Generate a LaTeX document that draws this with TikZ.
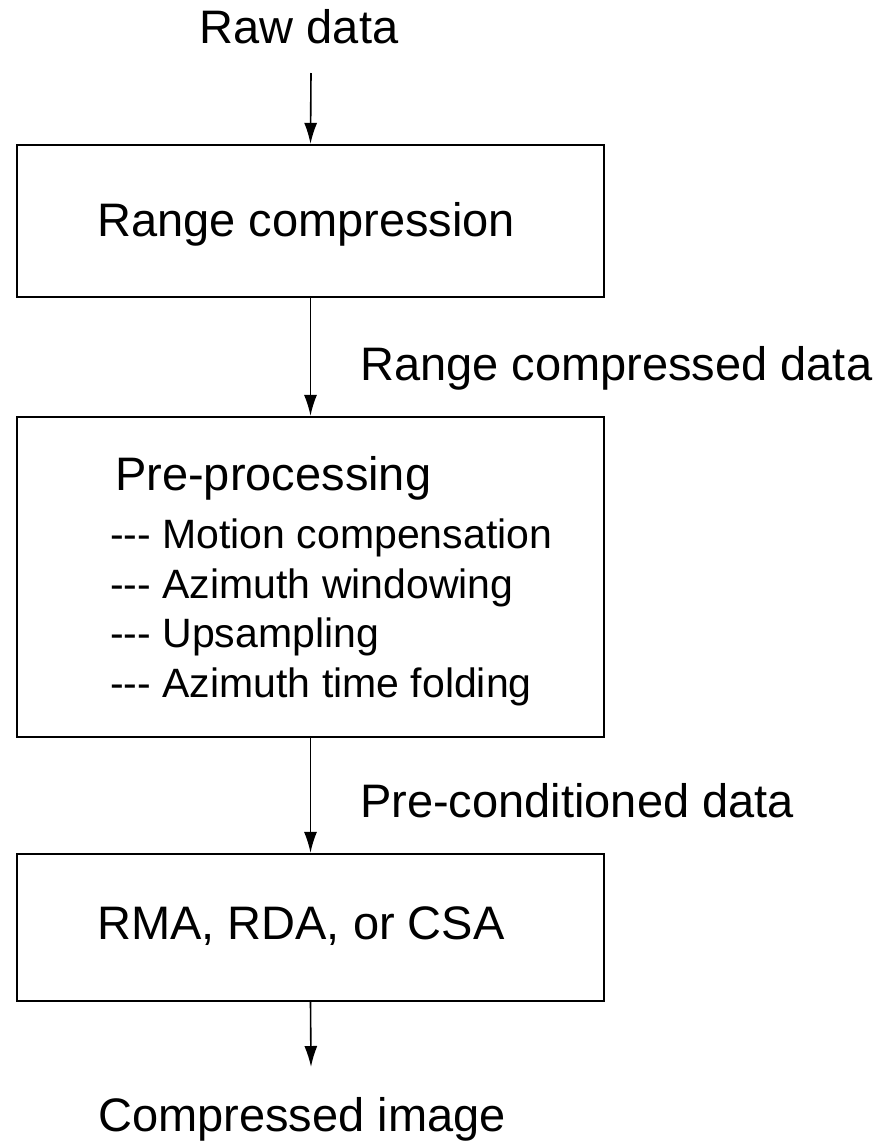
\documentclass[tikz,border=0pt]{standalone}
\usepackage{fontspec}
\setmainfont{Liberation Sans}
\usetikzlibrary{arrows.meta}
\begin{document}
\begin{tikzpicture}[x=1pt,y=-1pt,
  box/.style={draw=black,line width=2.2pt,minimum width=587pt,inner sep=0pt},
  lbl/.style={inner sep=0pt,anchor=base west,font=\fontsize{47}{56}\selectfont},
  item/.style={inner sep=0pt,anchor=base west,font=\fontsize{41}{50}\selectfont},
  arr/.style={draw=black,line width=1.6pt,-{Latex[length=21pt,width=13pt]}}]
\useasboundingbox[fill=white] (0,0) rectangle (876,1141);
% boxes
\node[box,minimum height=152pt] (b1) at (310.5,221) {};
\node[box,minimum height=320pt] (b2) at (310.5,577) {};
\node[box,minimum height=147pt] (b3) at (310.5,927.5) {};
% texts
\node[lbl,anchor=base] (raw) at (299,43) {Raw data};
\node[lbl] (t1) at (97,236) {Range compression};
\node[lbl] (l1) at (360,380) {Range compressed data};
\node[lbl] (t2) at (115,490) {Pre-processing};
\node[item] (i1) at (110,548) {-{}-{}- Motion compensation};
\node[item] (i2) at (110,598) {-{}-{}- Azimuth windowing};
\node[item] (i3) at (110,647) {-{}-{}- Upsampling};
\node[item] (i4) at (110,697) {-{}-{}- Azimuth time folding};
\node[lbl] (l2) at (360,817) {Pre-conditioned data};
\node[lbl] (t3) at (97,939) {RMA, RDA, or CSA};
\node[lbl] (out) at (98,1131) {Compressed image};
% connectors
\coordinate (s0) at (311,73);
\coordinate (e4) at (311,1067);
\draw[arr] (s0) -- (b1.north);
\draw[arr] (b1.south) -- (b2.north);
\draw[arr] (b2.south) -- (b3.north);
\draw[arr] (b3.south) -- (e4);
\end{tikzpicture}
\end{document}
